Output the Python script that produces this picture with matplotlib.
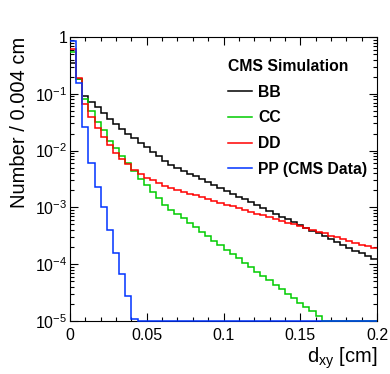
import numpy as np
import matplotlib
matplotlib.use('Agg')
import matplotlib.pyplot as plt
from matplotlib.ticker import FuncFormatter, MultipleLocator, LogLocator, NullFormatter

# d_xy histograms, 50 bins of 0.004 cm from 0 to 0.2 cm, unit-normalised
bin_width = 0.004
n_bins = 50

bb = [0.35, 0.18, 0.093, 0.073, 0.058, 0.045, 0.036, 0.029, 0.024, 0.020,
      0.0166, 0.0138, 0.0115, 0.0095, 0.0079, 0.0066, 0.0055, 0.0049, 0.0044, 0.0039,
      0.0035, 0.0031, 0.00275, 0.00245, 0.0022, 0.00195, 0.00174, 0.00155, 0.00138, 0.00123,
      0.0011, 0.00098, 0.00087, 0.00078, 0.00069, 0.00062, 0.00055, 0.00049, 0.00044, 0.00039,
      0.00035, 0.00031, 0.000275, 0.000245, 0.00022, 0.000195, 0.000174, 0.000155, 0.000138, 0.000123]

cc = [0.55, 0.18, 0.081, 0.05, 0.032, 0.023, 0.015, 0.011, 0.0081, 0.006,
      0.0043, 0.0032, 0.0025, 0.0019, 0.00145, 0.0011, 0.00091, 0.00076, 0.00064, 0.00054,
      0.00045, 0.00037, 0.00031, 0.00026, 0.00022, 0.00018, 0.00015, 0.000126, 0.000105, 8.9e-5,
      7.4e-5, 6.2e-5, 5.2e-5, 4.3e-5, 3.6e-5, 3.0e-5, 2.5e-5, 2.1e-5, 1.75e-5, 1.48e-5,
      1.23e-5, 1.02e-5, 0, 0, 0, 0, 0, 0, 0, 0]

dd = [0.61, 0.19, 0.065, 0.039, 0.025, 0.0175, 0.0125, 0.0089, 0.0071, 0.0057,
      0.0045, 0.0038, 0.0033, 0.0030, 0.0027, 0.0024, 0.0022, 0.00204, 0.0019, 0.00174,
      0.00162, 0.00151, 0.00141, 0.00131, 0.0012, 0.00112, 0.00105, 0.00097, 0.00091, 0.00084,
      0.00078, 0.00073, 0.00068, 0.00063, 0.00058, 0.00054, 0.0005, 0.00047, 0.00044, 0.0004,
      0.00037, 0.00035, 0.00032, 0.0003, 0.00028, 0.00026, 0.00024, 0.00022, 0.00021, 0.00019]

pp = [0.84, 0.153, 0.026, 0.0061, 0.0023, 0.001, 0.0004, 1.6e-4, 6.7e-5, 2.8e-5,
      1.1e-5, 0, 0, 0, 0, 0, 0, 0, 0, 0,
      0, 0, 0, 0, 0, 0, 0, 0, 0, 0,
      0, 0, 0, 0, 0, 0, 0, 0, 0, 0,
      0, 0, 0, 0, 0, 0, 0, 0, 0, 0]

labels = ['BB', 'CC', 'DD', 'PP (CMS Data)']
colors = ['#000000', '#00cc00', '#ff0000', '#0033ff']

YMIN, YMAX = 1e-5, 1.0

plt.rcParams.update({'font.family': 'Liberation Sans',
                     'mathtext.fontset': 'custom',
                     'mathtext.rm': 'Liberation Sans',
                     'mathtext.it': 'Liberation Sans:italic',
                     'mathtext.bf': 'Liberation Sans:bold'})

fig = plt.figure(figsize=(3.9, 3.74), dpi=100)
ax = fig.add_axes([70 / 390, 1 - 321 / 374, 307 / 390, 284 / 374])

edges = np.arange(n_bins + 1) * bin_width
for vals, lab, col in zip([bb, cc, dd, pp], labels, colors):
    v = np.clip(np.asarray(vals, dtype=float), YMIN, None)   # empty bins sit on the frame
    ax.stairs(v, edges, baseline=None, color=col, lw=1.1, zorder=3,
              clip_on=False, label=lab)

ax.set_yscale('log')
ax.set_xlim(0, 0.2)
ax.set_ylim(YMIN, YMAX)

ax.xaxis.set_major_locator(MultipleLocator(0.05))
ax.xaxis.set_minor_locator(MultipleLocator(0.01))
ax.xaxis.set_major_formatter(FuncFormatter(lambda x, p: f'{x:g}'))
ax.yaxis.set_major_locator(LogLocator(base=10, numticks=10))
ax.yaxis.set_minor_locator(LogLocator(base=10, subs=np.arange(2, 10), numticks=20))
ax.yaxis.set_minor_formatter(NullFormatter())
ax.yaxis.set_major_formatter(FuncFormatter(
    lambda y, p: '1' if abs(y - 1) < 1e-9 else r'$\mathregular{10^{%d}}$' % round(np.log10(y))))

ax.tick_params(which='both', direction='in', top=True, right=True, labelsize=11.5, width=0.8)
ax.tick_params(which='major', length=6)
ax.tick_params(which='minor', length=3.2)
ax.tick_params(axis='x', pad=5)
ax.tick_params(axis='y', pad=2)
for s in ax.spines.values():
    s.set_linewidth(0.8)

ax.set_xlabel(r'$\mathregular{d_{xy}}$ [cm]', loc='right', fontsize=14.5, labelpad=2)
ax.set_ylabel('Number / 0.004 cm', loc='top', fontsize=14.5, labelpad=4)

ax.legend(handles=[plt.Line2D([], [], color=c, lw=1.1) for c in colors], labels=labels,
          title='CMS Simulation', loc='upper left', bbox_to_anchor=(0.515, 0.922),
          frameon=False, borderpad=0, borderaxespad=0, handlelength=1.5,
          handletextpad=0.4, labelspacing=0.68, alignment='left',
          prop={'weight': 'bold', 'size': 11.3},
          title_fontproperties={'weight': 'bold', 'size': 11.3})

fig.savefig('out.png', dpi=100)
